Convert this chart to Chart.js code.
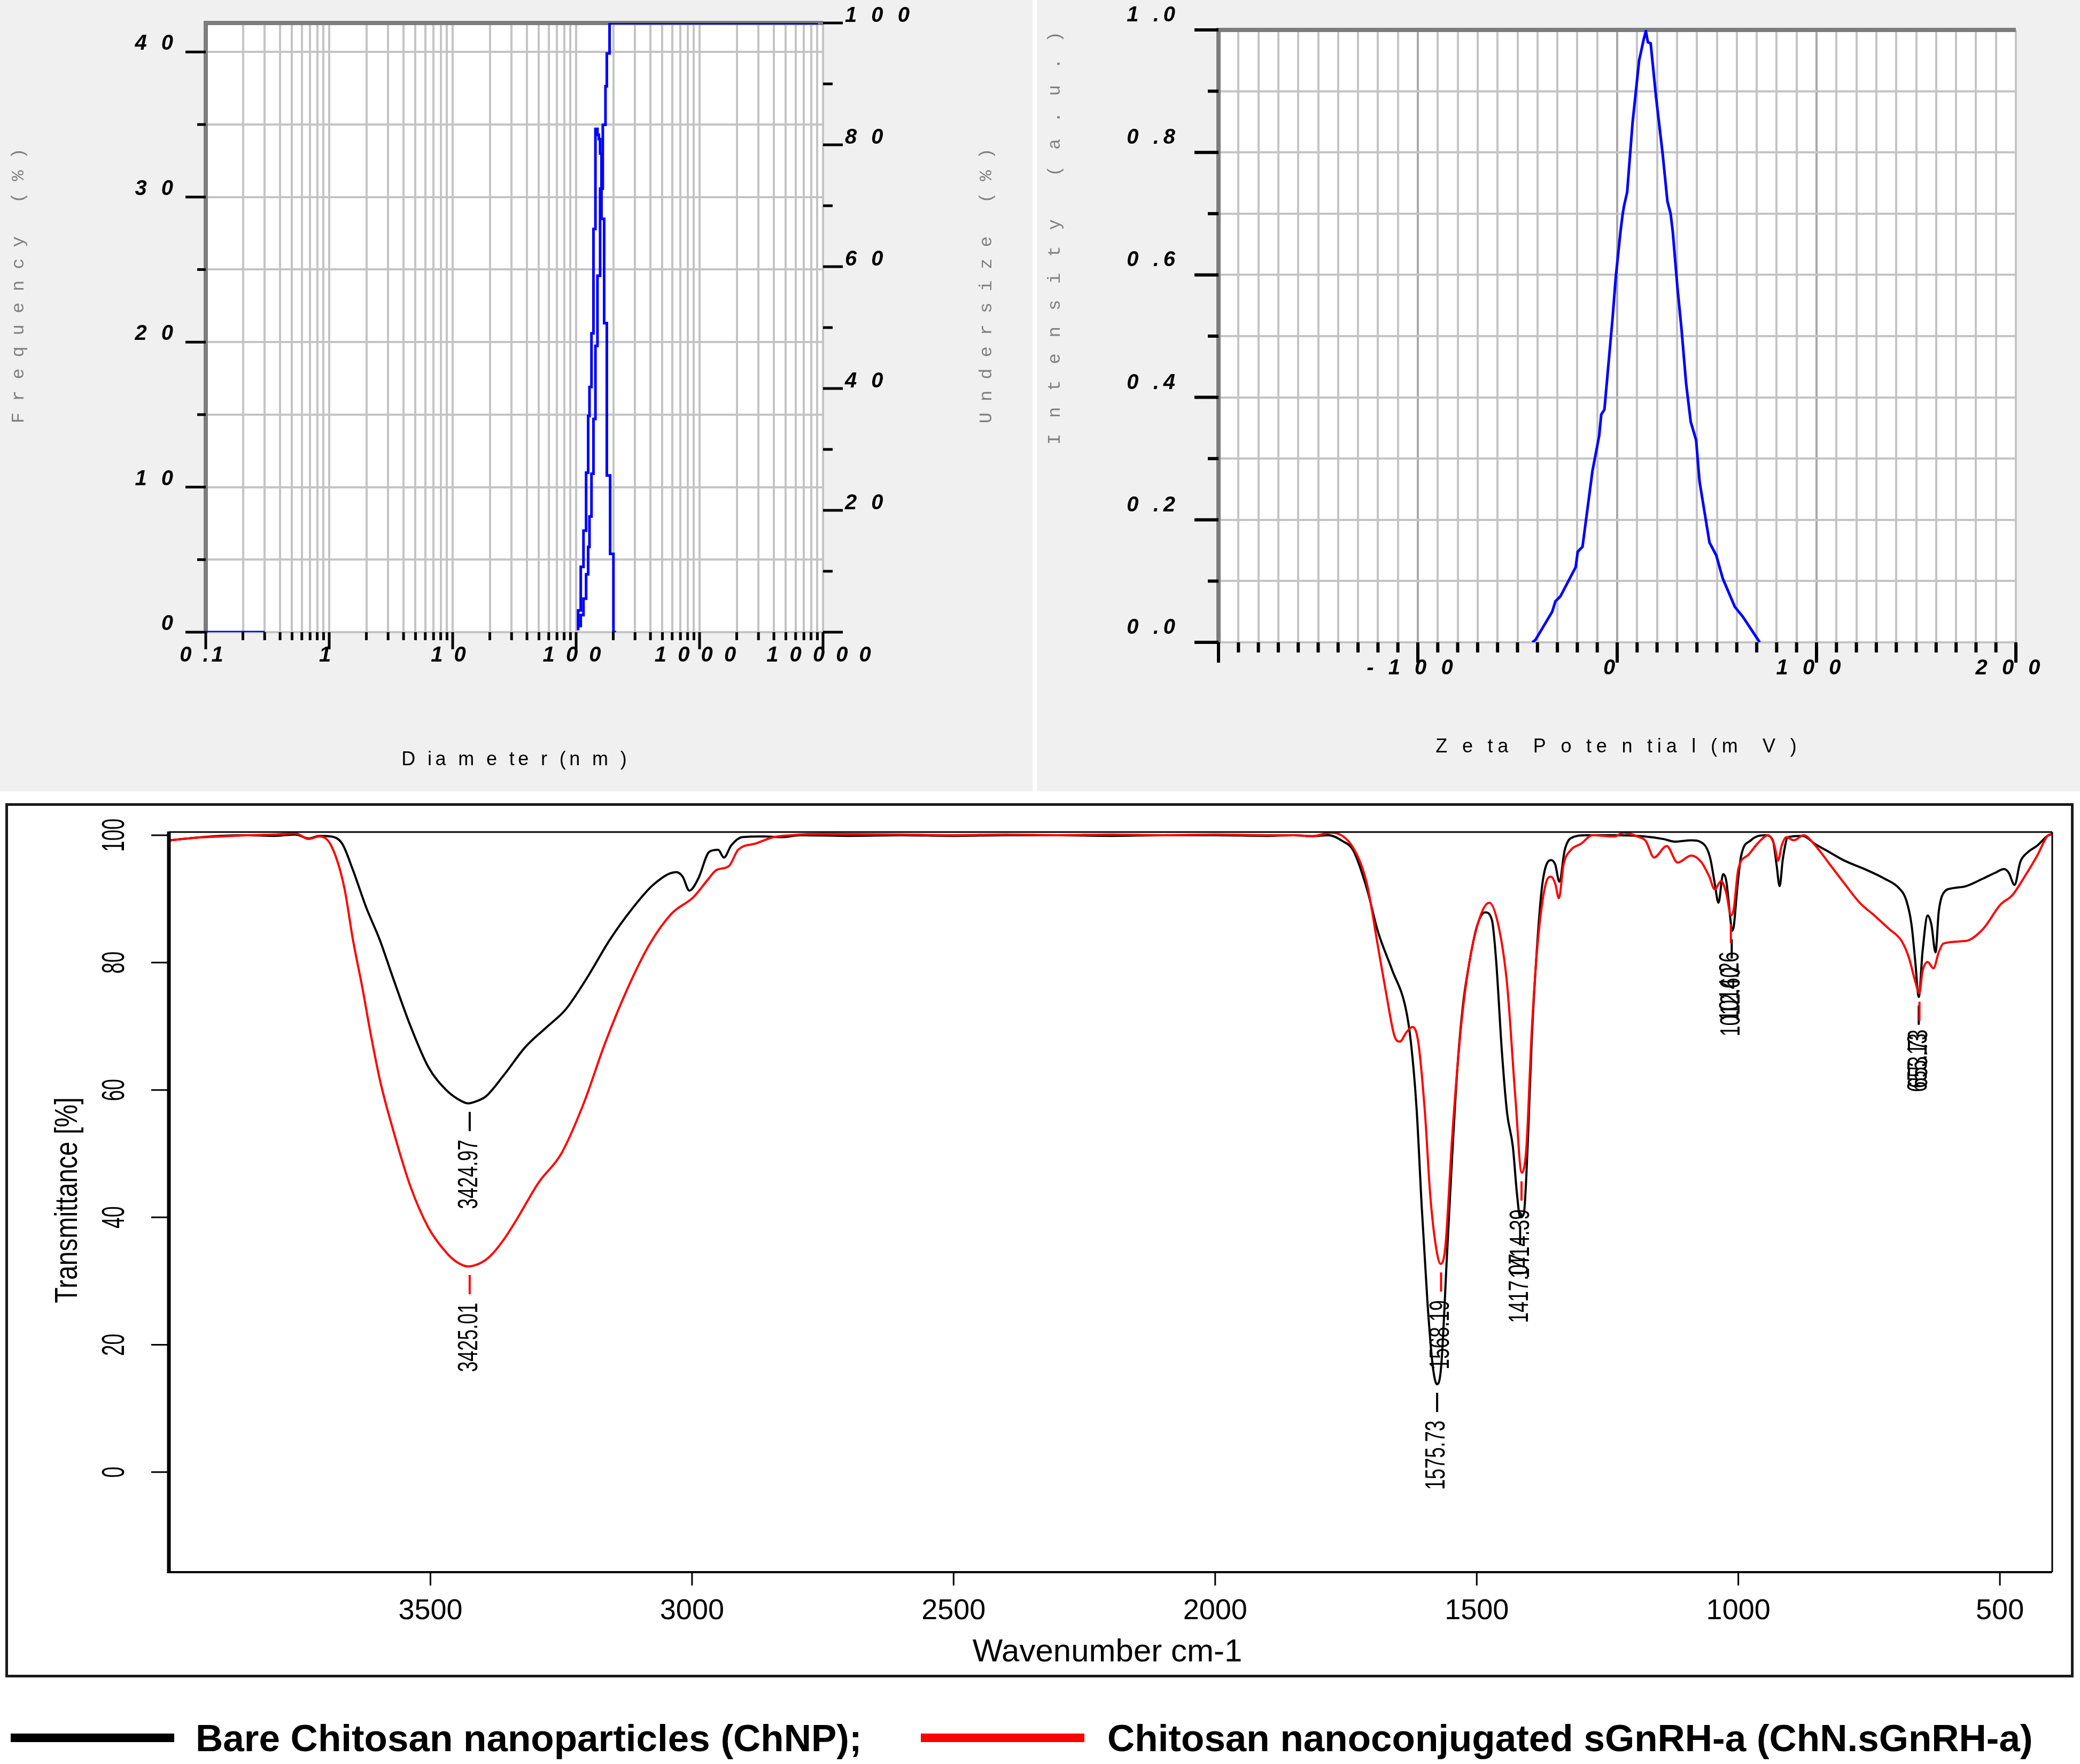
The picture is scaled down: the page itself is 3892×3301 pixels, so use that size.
<!DOCTYPE html>
<html><head><meta charset="utf-8">
<script src="https://cdn.jsdelivr.net/npm/chart.js@4.4.0/dist/chart.umd.min.js"></script>
<style>
html,body{margin:0;padding:0;background:#fff;}
body{width:3892px;height:3301px;position:relative;overflow:hidden;}
.abs{position:absolute;}
canvas{position:absolute;display:block;}
.leg{position:absolute;font-family:"Liberation Sans",Arial,sans-serif;font-weight:bold;font-size:71px;line-height:71px;white-space:nowrap;color:#000;}
</style></head><body>
<div class="abs" style="left:0;top:0;width:1932px;height:1481px;background:#f0f0f0"></div>
<div class="abs" style="left:1940px;top:0;width:1952px;height:1481px;background:#f0f0f0"></div>
<canvas id="c1" width="1932" height="1481" style="left:0;top:0;width:1932px;height:1481px"></canvas>
<canvas id="c2" width="1952" height="1481" style="left:1940px;top:0;width:1952px;height:1481px"></canvas>
<div class="abs" style="left:10px;top:1503px;width:3870px;height:1636px;border:5px solid #1a1a1a;box-sizing:border-box;background:#fff"></div>
<canvas id="c3" width="3892" height="1660" style="left:0;top:1490px;width:3892px;height:1660px"></canvas>
<div class="abs" style="left:20px;top:3244px;width:306px;height:16px;background:#000"></div>
<div class="leg" style="left:366px;top:3217px">Bare Chitosan nanoparticles (ChNP);</div>
<div class="abs" style="left:1723px;top:3244px;width:306px;height:16px;background:#ff0000"></div>
<div class="leg" style="left:2072px;top:3217px">Chitosan nanoconjugated sGnRH-a (ChN.sGnRH-a)</div>
<script>
// ---------- DATA: particle size distribution ----------
const sizeFreqD = [103.8,109,114.7,120.5,125.2,128.3,133.2,138.2,143.4,148.9,152.7,156.5,160.5,168.7,177.3,188.6,200.6,210.9];
const sizeFreqV = [0.5,1.5,4.5,7,11,14.9,16.9,20.6,27.8,34.7,34.3,34,33,28.5,21.3,10.8,5.4,0];
const sizeBaseD = [0.1,0.3];
const sizeBaseV = [0,0];
const sizeCumD = [103.8,109,114.7,120.5,125.2,128.3,133.2,138.2,143.4,148.9,156.5,164.5,172.9,177.3,186.6,191,9100];
const sizeCumV = [0.3,1,2.8,5.5,9.5,14,19,26,35,47,58.5,72.8,83.3,89.6,95,100,100];
const sizeXTickValues = [0.1,1,10,100,1000,10000];
const sizeXTickLabels = ["0 .1","1","1 0","1 0 0","1 0 0 0","1 0 0 0 0"];
const sizeYTickValues = [0,10,20,30,40];
const sizeYTickLabels = ["0","1 0","2 0","3 0","4 0"];
const sizeYMinor = [5,15,25,35];
const sizeYGrid = [0,5,10,15,20,25,30,35,40];
const sizeY2TickValues = [20,40,60,80,100];
const sizeY2TickLabels = ["2 0","4 0","6 0","8 0","1 0 0"];
const sizeY2Minor = [10,30,50,70,90];

// ---------- DATA: zeta potential ----------
const zetaMv = [-42.6,-41,-32.6,-31,-28.5,-20.8,-19.8,-17.4,-12.4,-9,-8,-6.4,-2.3,-0.7,1.7,2.7,3.4,5,7.7,11,13.4,14.4,15.4,16.8,19.5,22.8,25.2,26.8,27.9,30.2,32.2,34.6,36.9,39.6,41.3,46.3,49.7,53,59,63,71.5];
const zetaInt = [0,0.004,0.05,0.067,0.075,0.123,0.148,0.156,0.28,0.338,0.372,0.38,0.53,0.597,0.672,0.698,0.712,0.735,0.848,0.95,0.986,0.998,0.98,0.978,0.89,0.798,0.72,0.70,0.67,0.58,0.514,0.422,0.36,0.33,0.263,0.163,0.142,0.104,0.058,0.042,0];
const zetaXTickValues = [-100,0,100,200];
const zetaXTickLabels = ["- 1 0 0","0","1 0 0","2 0 0"];
const zetaXMajor = [-200,-100,0,100,200];
const zetaYTickValues = [0,0.2,0.4,0.6,0.8,1.0];
const zetaYTickLabels = ["0 .0","0 .2","0 .4","0 .6","0 .8","1 .0"];
const zetaYMinor = [0.1,0.3,0.5,0.7,0.9];
const zetaYGrid = [0,0.1,0.2,0.3,0.4,0.5,0.6,0.7,0.8,0.9,1.0];

// ---------- DATA: FTIR ----------
const bareWn = [3997,3950,3902,3850,3800,3758,3733,3712,3690,3669,3648,3623,3597,3572,3538,3504,3470,3450,3428,3410,3394,3360,3318,3276,3242,3200,3157,3115,3073,3030,3018,3005,2988,2967,2950,2939,2925,2904,2862,2827,2794,2700,2600,2500,2400,2300,2200,2100,2000,1900,1850,1815,1783,1757,1736,1710,1689,1662,1636,1626,1615,1605,1594,1584,1576,1568,1557,1547,1536,1526,1515,1500,1484,1471,1463,1452,1442,1431,1423,1417,1410,1402,1395,1384,1374,1358,1350,1342,1332,1321,1290,1237,1179,1143,1122,1090,1066,1054,1045,1038,1029,1023,1014,1012,1009,1002,995,976,948,934,927,921,915,905,877,853,825,797,759,721,693,679,669,662,655,648,638,631,623,617,608,589,565,532,509,492,483,472,461,447,428,409,400];
const bareT = [99.2,99.6,99.9,100,99.9,100.1,99.5,99.9,99.8,98.7,94.5,88.7,83.6,77.7,70,63.6,60,58.7,57.9,58.3,59,62.3,66.8,70,72.6,77.7,83.6,88.4,92.3,94.2,93.5,91.3,93.2,97.4,97.7,96.5,98.4,99.7,99.8,99.7,100,99.9,100,99.9,100,100,99.9,100,100,99.9,100,99.85,100,99.1,97.6,91.6,84.9,78.9,72.9,67.6,57.1,41.4,26.4,16.6,13.8,16.6,33.9,49.6,64.6,73.6,79.6,85.6,87.9,86.7,80.4,66.1,56.4,51.1,43.6,40,40.6,52.6,67.6,83.4,92.7,96.1,95.4,92.7,97.6,99.5,100,100,99.8,99.4,99,99.2,98.6,96.5,92.4,89.4,93.9,92.8,86,85,85.5,91.7,96.6,99.2,100,99.2,95.4,92,96.2,99.7,99.9,98.6,97.3,96,94.7,93.2,91.7,89.8,86,80.4,74.6,81.6,87.4,86,81.6,87.9,90.9,91.7,92,93.2,94.1,94.7,94.1,92.2,95.8,97.3,98.4,99.9,100.2];
const conjWn = [3997,3950,3900,3850,3800,3758,3733,3712,3690,3665,3648,3630,3614,3595,3572,3538,3504,3470,3450,3428,3405,3386,3360,3335,3293,3250,3208,3166,3124,3081,3039,2997,2970,2954,2929,2912,2878,2844,2810,2750,2600,2500,2400,2300,2200,2100,2000,1900,1850,1815,1778,1736,1710,1689,1673,1657,1647,1634,1623,1612,1599,1589,1578,1569,1560,1547,1531,1515,1494,1476,1458,1442,1426,1414,1405,1395,1384,1368,1358,1350,1343,1334,1321,1300,1279,1237,1219,1190,1177,1161,1137,1116,1090,1071,1056,1045,1033,1023,1014,1009,1000,981,962,943,931,924,917,908,894,875,853,825,797,768,740,712,688,674,662,654,648,638,627,617,608,565,532,499,476,452,428,409,400];
const conjT = [99.2,99.6,99.8,100,100.1,100.3,99.4,99.8,98.4,91.9,83.5,76,68.7,61,53.9,44.8,38.4,34.5,33,32.3,32.8,33.9,36.5,39.7,45.5,50,57.7,67.4,75.8,82.9,87.7,90.3,93,94.5,95.2,97.7,98.7,99.7,100,100.2,100.1,100,100.1,100,100.1,100,100.1,100,100,99.85,100.4,98,92.4,82.6,75.1,68.4,67.6,69.1,69.9,67.6,56.4,43.6,35.4,32.7,35.4,52.6,69.1,79.6,87.1,89.4,85.6,76.6,58.6,47,51.1,69.1,82.6,92.4,93.5,92.4,90.1,95.4,97.6,98.7,100,99.8,100.4,99.7,99.1,96.5,98.3,95.7,96.8,95.8,93.6,91.5,92.8,90.9,87.4,88.3,94.7,96.9,98.8,100,98.4,96,98.4,99.7,99.2,100,98.4,95.4,92.4,89.4,87.4,85.3,83.4,80.8,77.1,75.2,78.6,80.1,79.1,81.6,83,83.4,85.3,89.1,90.6,93.6,96.9,99.9,100.2];
const ftirXTicks = [3500,3000,2500,2000,1500,1000,500];
const ftirYTicks = [0,20,40,60,80,100];
const peakWn = [3424.97,3425.01,1575.73,1568.19,1417.07,1414.39,1012.60,1014.26,655.13,653.73];
const peakT = [57.9,32.3,13.8,32.7,40,47,85,87.4,74.6,75.2];
const peakText = ["3424.97","3425.01","1575.73","1568.19","1417.07","1414.39","1012.60","1014.26","655.13","653.73"];
const peakSeries = [0,1,0,1,0,1,0,1,0,1];
const seriesColors = ["#000000","#ff0000"];

// ---------- helpers ----------
Chart.defaults.font.family = '"Liberation Sans", Arial, sans-serif';
function xy(xs, ys){ return xs.map((v,i)=>({x:v,y:ys[i]})); }
function spacedW(ctx,s,sp){ const ch=[...s]; let w=0; ch.forEach((c,i)=>{ w+=ctx.measureText(c).width; if(i<ch.length-1) w+=sp; }); return w; }
function spaced(ctx,s,x,y,sp,align){ const w=spacedW(ctx,s,sp); let cx = align==='right'? x-w : (align==='center'? x-w/2 : x); ctx.textAlign='left'; for(const c of s){ ctx.fillText(c,cx,y); cx+=ctx.measureText(c).width+sp; } }
function vertChars(ctx,s,x,y0,step){ [...s].forEach((c,i)=>{ ctx.save(); ctx.translate(x,y0-i*step); ctx.rotate(-Math.PI/2); ctx.textAlign='center'; ctx.textBaseline='middle'; ctx.fillText(c,0,0); ctx.restore(); }); }
function squeezed(ctx,s,x,y,sx,align){ ctx.save(); ctx.translate(x,y); ctx.rotate(-Math.PI/2); ctx.scale(sx,1); ctx.textAlign=align; ctx.textBaseline='middle'; ctx.fillText(s,0,0); ctx.restore(); }
function seg(ctx,x1,y1,x2,y2){ ctx.beginPath(); ctx.moveTo(x1,y1); ctx.lineTo(x2,y2); ctx.stroke(); }
function setTicks(vals){ return (s)=>{ s.ticks = vals.map(v=>({value:v})); }; }

const sizeGrid = [];
for (let e=-1;e<=3;e++) for (let m=1;m<=9;m++) sizeGrid.push(+(m*Math.pow(10,e)).toPrecision(3));
sizeGrid.push(10000);
const zetaGrid = [];
for (let v=-200; v<=200; v+=10) zetaGrid.push(v);

const whiteArea = { id:'whiteArea', beforeDraw(c){ const {ctx,chartArea:a}=c; ctx.save(); ctx.fillStyle='#fff'; ctx.fillRect(a.left,a.top,a.right-a.left,a.bottom-a.top); ctx.restore(); } };
function darkFrame(lw){ return { id:'darkFrame', beforeDatasetsDraw(c){ const {ctx,chartArea:a}=c; ctx.save(); ctx.strokeStyle='#7d7d7d'; ctx.lineWidth=lw; ctx.beginPath(); ctx.moveTo(a.left,a.bottom+2); ctx.lineTo(a.left,a.top); ctx.lineTo(a.right,a.top); ctx.stroke(); ctx.restore(); } }; }

// ---------- Chart 1: size distribution ----------
const sizeDeco = { id:'sizeDeco', afterDraw(c){
  const {ctx,chartArea:a,scales:{x,y,y2}} = c;
  ctx.save(); ctx.strokeStyle='#000'; ctx.lineWidth=5;
  sizeYTickValues.forEach(v=>{ const p=y.getPixelForValue(v); seg(ctx,a.left-38,p,a.left,p); });
  sizeYMinor.forEach(v=>{ const p=y.getPixelForValue(v); seg(ctx,a.left-16,p,a.left,p); });
  [0].concat(sizeY2TickValues).forEach(v=>{ const p=y2.getPixelForValue(v); seg(ctx,a.right,p,a.right+37,p); });
  sizeY2Minor.forEach(v=>{ const p=y2.getPixelForValue(v); seg(ctx,a.right,p,a.right+18,p); });
  sizeGrid.forEach(v=>{ const p=x.getPixelForValue(v); const major = sizeXTickValues.includes(v); seg(ctx,p,a.bottom,p,a.bottom+(major?32:15)); });
  ctx.fillStyle='#000'; ctx.font='italic bold 40px "Liberation Sans"'; ctx.textBaseline='alphabetic';
  sizeYTickValues.forEach((v,i)=>{ spaced(ctx,sizeYTickLabels[i],a.left-61,y.getPixelForValue(v)-4,8,'right'); });
  sizeY2TickValues.forEach((v,i)=>{ spaced(ctx,sizeY2TickLabels[i],a.right+41,y2.getPixelForValue(v)-2,8,'left'); });
  sizeXTickValues.forEach((v,i)=>{ spaced(ctx,sizeXTickLabels[i],x.getPixelForValue(v)-8,1238,5,'center'); });
  ctx.fillStyle='#000'; ctx.font='36px "Liberation Sans"';
  spaced(ctx,"D ia m e te r (n m )",962,1432,6.4,'center');
  ctx.fillStyle='#808080'; ctx.font='34px "Liberation Mono"';
  vertChars(ctx,"Frequency (%)",35,782,41.2);
  vertChars(ctx,"Undersize (%)",1846,782,41.2);
  ctx.restore();
}};
new Chart(document.getElementById('c1'), {
  type:'line',
  data:{ datasets:[
    { data:xy(sizeFreqD,sizeFreqV), yAxisID:'y', borderColor:'#0000ff', borderWidth:5, pointRadius:0, stepped:'after', fill:false },
    { data:xy(sizeBaseD,sizeBaseV), yAxisID:'y', borderColor:'#0000ff', borderWidth:5, pointRadius:0, fill:false },
    { data:xy(sizeCumD,sizeCumV), yAxisID:'y2', borderColor:'#0000ff', borderWidth:5, pointRadius:0, stepped:'after', fill:false }
  ]},
  options:{ responsive:false, devicePixelRatio:1, animation:false, parsing:true,
    layout:{ padding:{ top:43, right:0, bottom:0, left:0 } },
    plugins:{ legend:{display:false}, tooltip:{enabled:false} },
    scales:{
      x:{ type:'logarithmic', min:0.1, max:10000, afterBuildTicks:setTicks(sizeGrid), afterFit:(s)=>{ s.height=298; },
          grid:{ color:'#c4c4c4', lineWidth:4, drawTicks:false }, border:{display:false}, ticks:{display:false} },
      y:{ type:'linear', position:'left', min:0, max:42, afterBuildTicks:setTicks(sizeYGrid), afterFit:(s)=>{ s.width=385; },
          grid:{ color:'#c4c4c4', lineWidth:4, drawTicks:false }, border:{display:false}, ticks:{display:false} },
      y2:{ type:'linear', position:'right', min:0, max:100, afterFit:(s)=>{ s.width=392; },
          grid:{ display:false }, border:{display:false}, ticks:{display:false} }
    }
  },
  plugins:[whiteArea, darkFrame(8), sizeDeco]
});

// ---------- Chart 2: zeta potential ----------
const zetaDeco = { id:'zetaDeco', afterDraw(c){
  const {ctx,chartArea:a,scales:{x,y}} = c;
  ctx.save(); ctx.strokeStyle='#000'; ctx.lineWidth=6;
  zetaYTickValues.forEach(v=>{ const p=y.getPixelForValue(v); seg(ctx,a.left-45,p,a.left,p); });
  zetaYMinor.forEach(v=>{ const p=y.getPixelForValue(v); seg(ctx,a.left-20,p,a.left,p); });
  zetaGrid.forEach(v=>{ const p=x.getPixelForValue(v); const major = zetaXMajor.includes(v); seg(ctx,p,a.bottom,p,a.bottom+(major?38:19)); });
  ctx.fillStyle='#000'; ctx.font='italic bold 40px "Liberation Sans"'; ctx.textBaseline='alphabetic';
  zetaYTickValues.forEach((v,i)=>{ spaced(ctx,zetaYTickLabels[i],259,y.getPixelForValue(v)-16,8,'right'); });
  zetaXTickValues.forEach((v,i)=>{ spaced(ctx,zetaXTickLabels[i],x.getPixelForValue(v)-15,1262,8,'center'); });
  ctx.font='36px "Liberation Sans"';
  spaced(ctx,"Z e ta  P o te n tia l (m  V )",1084,1408,8.8,'center');
  ctx.fillStyle='#808080'; ctx.font='34px "Liberation Mono"';
  vertChars(ctx,"Intensity (a.u.)",34,822,50.2);
  ctx.restore();
}};
new Chart(document.getElementById('c2'), {
  type:'line',
  data:{ datasets:[
    { data:xy(zetaMv,zetaInt), borderColor:'#0000ff', borderWidth:5, pointRadius:0, tension:0, fill:false }
  ]},
  options:{ responsive:false, devicePixelRatio:1, animation:false,
    layout:{ padding:{ top:56, right:120, bottom:0, left:0 } },
    plugins:{ legend:{display:false}, tooltip:{enabled:false} },
    scales:{
      x:{ type:'linear', min:-200, max:200, afterBuildTicks:setTicks(zetaGrid), afterFit:(s)=>{ s.height=279; },
          grid:{ color:(ctx)=> (ctx.tick && Math.abs(ctx.tick.value)%100===0 && Math.abs(ctx.tick.value)!==200) ? '#a8a8a8' : '#c4c4c4', lineWidth:4, drawTicks:false },
          border:{display:false}, ticks:{display:false} },
      y:{ type:'linear', min:0, max:1, afterBuildTicks:setTicks(zetaYGrid), afterFit:(s)=>{ s.width=340; },
          grid:{ color:'#c4c4c4', lineWidth:4, drawTicks:false }, border:{display:false}, ticks:{display:false} }
    }
  },
  plugins:[whiteArea, darkFrame(8), zetaDeco]
});

// ---------- Chart 3: FTIR ----------
const ftirDeco = { id:'ftirDeco', afterDraw(c){
  const {ctx,chartArea:a,scales:{x,y}} = c;
  ctx.save(); ctx.strokeStyle='#000';
  ctx.lineWidth=3; seg(ctx,a.left,a.top,a.right,a.top); seg(ctx,a.right,a.top,a.right,a.bottom);
  ctx.lineWidth=4; seg(ctx,a.left,a.bottom,a.right,a.bottom);
  ctx.lineWidth=7; seg(ctx,a.left,a.top-1,a.left,a.bottom+2);
  ctx.lineWidth=3;
  ctx.fillStyle='#000';
  ftirYTicks.forEach(v=>{ const p=y.getPixelForValue(v); seg(ctx,a.left-33,p,a.left,p); });
  ctx.font='60px "Liberation Sans"';
  ftirYTicks.forEach(v=>{ squeezed(ctx,String(v),215,y.getPixelForValue(v),0.62,'center'); });
  ftirXTicks.forEach(v=>{ const p=x.getPixelForValue(v); seg(ctx,p,a.bottom,p,a.bottom+25); });
  ctx.font='54px "Liberation Sans"'; ctx.textAlign='center'; ctx.textBaseline='middle';
  ftirXTicks.forEach(v=>{ ctx.fillText(String(v), x.getPixelForValue(v), 1525); });
  ctx.font='60px "Liberation Sans"';
  ctx.fillText("Wavenumber cm-1", 2072, 1602);
  squeezed(ctx,"Transmittance [%]",127,756,0.8,'center');
  // peak markers
  ctx.lineWidth=4;
  peakWn.forEach((w,i)=>{
    const px=x.getPixelForValue(w), py=y.getPixelForValue(peakT[i]);
    ctx.strokeStyle=seriesColors[peakSeries[i]];
    seg(ctx,px,py+16,px,py+52);
  });
  ctx.fillStyle='#000'; ctx.font='52px "Liberation Sans"';
  peakWn.forEach((w,i)=>{
    const px=x.getPixelForValue(w), py=y.getPixelForValue(peakT[i]);
    squeezed(ctx,peakText[i],px,py+68,0.69,'right');
  });
  ctx.restore();
}};
new Chart(document.getElementById('c3'), {
  type:'line',
  data:{ datasets:[
    { data:xy(conjWn,conjT), borderColor:'#ff0000', borderWidth:4, pointRadius:0, cubicInterpolationMode:'monotone', fill:false, order:1 },
    { data:xy(bareWn,bareT), borderColor:'#000000', borderWidth:4, pointRadius:0, cubicInterpolationMode:'monotone', fill:false, order:2 }
  ]},
  options:{ responsive:false, devicePixelRatio:1, animation:false,
    layout:{ padding:{ top:67, right:52, bottom:0, left:0 } },
    plugins:{ legend:{display:false}, tooltip:{enabled:false} },
    scales:{
      x:{ type:'linear', reverse:true, min:400, max:4000, afterFit:(s)=>{ s.height=208; },
          grid:{display:false}, border:{display:false}, ticks:{display:false} },
      y:{ type:'linear', min:-15.7, max:100.5, afterFit:(s)=>{ s.width=316; },
          grid:{display:false}, border:{display:false}, ticks:{display:false} }
    }
  },
  plugins:[ftirDeco]
});
</script>
</body></html>
